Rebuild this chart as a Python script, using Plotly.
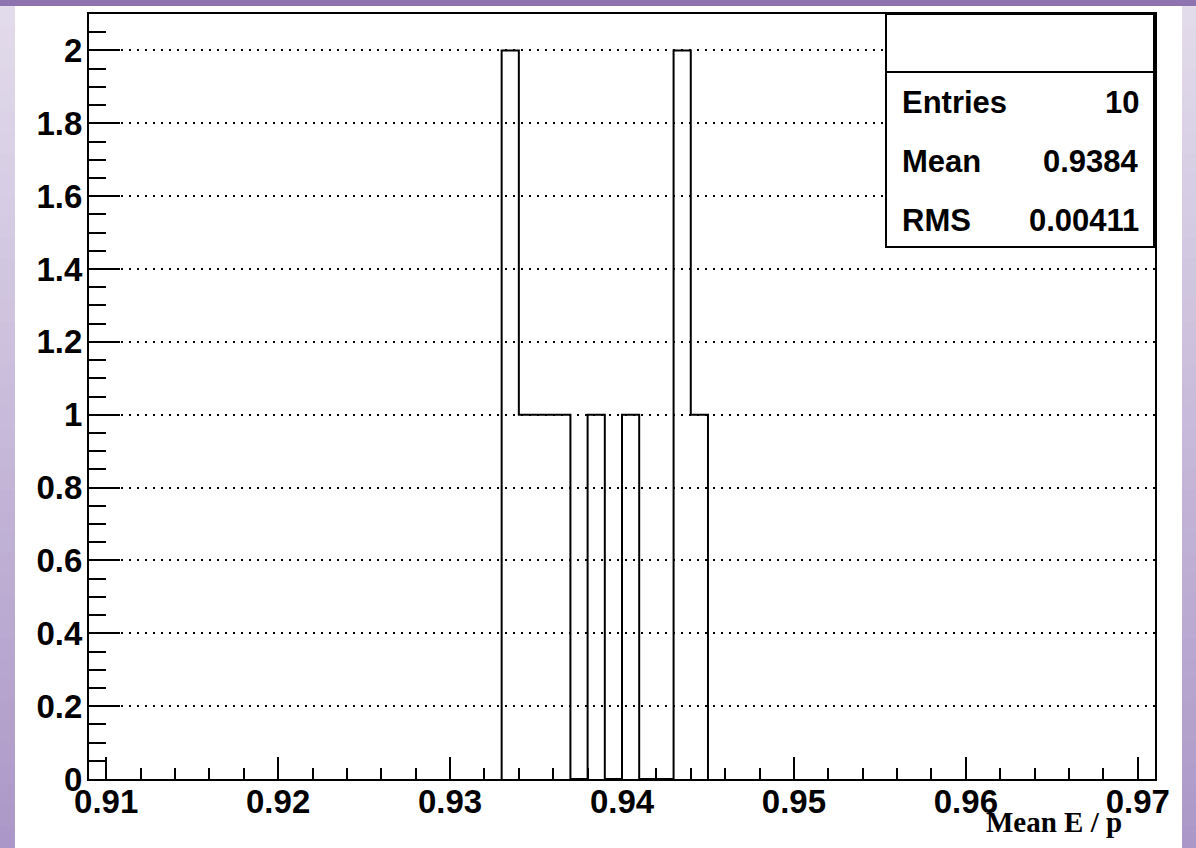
import plotly.graph_objects as go

# ---------------- data ----------------
bin_edges = [0.933, 0.934, 0.935, 0.936, 0.937, 0.938, 0.939, 0.940, 0.941, 0.942, 0.943, 0.944, 0.945]
bin_counts = [2, 1, 1, 1, 0, 1, 0, 1, 0, 0, 2, 1]
x_range = [0.909, 0.971]
y_range = [0, 2.1]
stats_labels = ["Entries", "Mean", "RMS"]
stats_values = ["10", "0.9384", "0.00411"]
x_title = "Mean E / p"

# ---------------- layout geometry (pixels) ----------------
W, H = 1196, 848
L, R, T, B = 89, 1155, 14, 779  # plot frame


def px(x):
    return (x - L) / (R - L)


def py(y):
    return (B - y) / (B - T)


# step outline of histogram
xs = [bin_edges[0]] + bin_edges
ys = [0] + bin_counts + [0]

fig = go.Figure()
fig.add_trace(go.Scatter(
    x=xs, y=ys, mode="lines", line=dict(color="black", width=2, shape="hv"),
    hoverinfo="skip", showlegend=False, cliponaxis=False,
))

shapes = []
# background decoration: top band + gradient side bands
shapes.append(dict(type="rect", xref="paper", yref="paper", x0=px(0), x1=px(W), y0=py(6), y1=py(0),
                   fillcolor="#8f73b0", line=dict(width=0), layer="below"))
n = 40
c0 = (226, 219, 235)
c1 = (172, 152, 200)
for i in range(n):
    t = i / (n - 1)
    col = "rgb(%d,%d,%d)" % tuple(round(c0[k] + (c1[k] - c0[k]) * t) for k in range(3))
    ya = 6 + (H - 6) * i / n
    yb = 6 + (H - 6) * (i + 1) / n + 1
    for xa, xb in [(0, 15), (1182, W)]:
        shapes.append(dict(type="rect", xref="paper", yref="paper", x0=px(xa), x1=px(xb),
                           y0=py(yb), y1=py(ya), fillcolor=col, line=dict(width=0), layer="below"))

# stats box
bx0, bx1, by0, by1, bsep = 886, 1154, 14, 247, 72
shapes.append(dict(type="rect", xref="paper", yref="paper", x0=px(bx0), x1=px(bx1), y0=py(by1), y1=py(by0),
                   fillcolor="white", line=dict(color="black", width=2), layer="above"))
shapes.append(dict(type="line", xref="paper", yref="paper", x0=px(bx0), x1=px(bx1), y0=py(bsep), y1=py(bsep),
                   line=dict(color="black", width=2), layer="above"))

annotations = []
row_y = [102, 162, 220]
for lab, val, ry in zip(stats_labels, stats_values, row_y):
    annotations.append(dict(xref="paper", yref="paper", x=px(900), y=py(ry), text=lab, showarrow=False,
                            xanchor="left", yanchor="middle",
                            font=dict(family="Liberation Sans", size=31, color="black", weight="bold")))
    annotations.append(dict(xref="paper", yref="paper", x=px(1141), y=py(ry), text=val, showarrow=False,
                            xanchor="right", yanchor="middle",
                            font=dict(family="Liberation Sans", size=31, color="black", weight="bold")))

annotations.append(dict(xref="paper", yref="paper", x=px(1124), y=py(822), text="<b>" + x_title + "</b>",
                        showarrow=False, xanchor="right", yanchor="middle",
                        font=dict(family="Liberation Serif", size=29, color="black")))

tickfont = dict(family="Liberation Sans", size=33, color="black", weight="bold")

fig.update_layout(
    width=W, height=H,
    margin=dict(l=L, r=W - R, t=T, b=H - B, pad=0),
    paper_bgcolor="white", plot_bgcolor="white",
    shapes=shapes, annotations=annotations,
    xaxis=dict(
        range=x_range, showgrid=False, zeroline=False,
        showline=True, linecolor="black", linewidth=2, mirror=True,
        ticks="inside", ticklen=22, tickwidth=2, tickcolor="black",
        tick0=0.91, dtick=0.01, tickformat=".2f",
        tickfont=tickfont, ticklabelstandoff=-8,
        minor=dict(ticks="inside", ticklen=11, tickwidth=2, tickcolor="black", dtick=0.002, tick0=0.91,
                   showgrid=False),
    ),
    yaxis=dict(
        range=y_range, zeroline=False,
        showgrid=True, gridcolor="black", gridwidth=2, griddash="2px,6px",
        showline=True, linecolor="black", linewidth=2, mirror=True,
        ticks="inside", ticklen=31, tickwidth=2, tickcolor="black",
        tick0=0, dtick=0.2,
        tickfont=tickfont, ticklabelstandoff=-2,
        minor=dict(ticks="inside", ticklen=17, tickwidth=2, tickcolor="black", dtick=0.05, tick0=0,
                   showgrid=False),
    ),
)

fig.write_html("out.html")
